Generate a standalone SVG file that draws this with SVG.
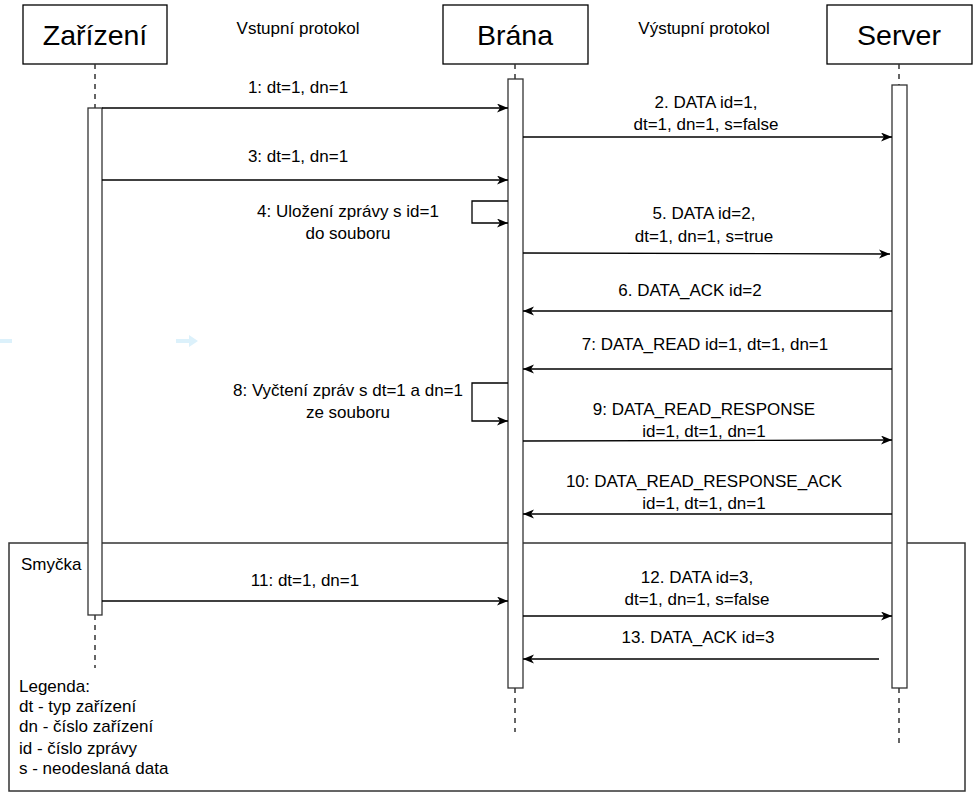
<svg xmlns="http://www.w3.org/2000/svg" width="978" height="801" viewBox="0 0 978 801">
<style>
text{font-family:"Liberation Sans",Arial,sans-serif;font-size:17px;fill:#000}
.t{text-anchor:middle}
.big{font-size:28.5px}
.hdr{fill:#fff;stroke:#000;stroke-width:1.3}
.life{stroke:#333;stroke-width:1.5;stroke-dasharray:5,5;fill:none}
.act{fill:#fff;stroke:#333;stroke-width:1.3}
.msg{stroke:#000;stroke-width:1.3;fill:none;marker-end:url(#ah)}
.frame{fill:none;stroke:#333;stroke-width:1.5}
</style>
<defs>
<marker id="ah" markerWidth="12" markerHeight="10" refX="11" refY="4.5" orient="auto" markerUnits="userSpaceOnUse">
<path d="M0,0 L11,4.5 L0,9 L3,4.5 z" fill="#000"/>
</marker>
</defs>
<rect width="978" height="801" fill="#fff"/>
<g id="loop-frame">
<rect class="frame" x="9" y="543" width="956" height="248"/>
<text x="21" y="570">Smyčka</text>
</g>
<g id="faint">
<rect x="0" y="339" width="12" height="4" fill="#dcf1fb"/>
<path d="M176,339 L189,339 L189,335 L198,341 L189,347 L189,343 L176,343 z" fill="#dcf1fb"/>
</g>
<g id="zarizeni">
<rect class="hdr" x="23" y="5" width="144" height="59"/>
<text class="t big" x="95" y="45">Zařízení</text>
<line class="life" x1="95" y1="64" x2="95" y2="108"/>
<line class="life" x1="95" y1="615" x2="95" y2="668"/>
<rect class="act" x="88" y="108" width="14" height="507"/>
</g>
<g id="brana">
<rect class="hdr" x="443" y="5" width="145" height="59"/>
<text class="t big" x="515" y="45">Brána</text>
<line class="life" x1="515" y1="64" x2="515" y2="79"/>
<line class="life" x1="515" y1="688" x2="515" y2="732"/>
<rect class="act" x="508" y="79" width="15" height="609"/>
</g>
<g id="server">
<rect class="hdr" x="827" y="5" width="145" height="59"/>
<text class="t big" x="899" y="45">Server</text>
<line class="life" x1="899" y1="64" x2="899" y2="85"/>
<line class="life" x1="899" y1="688" x2="899" y2="746"/>
<rect class="act" x="892" y="85" width="15" height="603"/>
</g>
<g id="protocol-labels">
<text class="t" x="298" y="34">Vstupní protokol</text>
<text class="t" x="704" y="34">Výstupní protokol</text>
</g>
<g id="connectors">
<line class="msg" x1="102" y1="108" x2="508" y2="108"/>
<text class="t" x="298" y="93">1: dt=1, dn=1</text>
<line class="msg" x1="523" y1="137" x2="892" y2="137"/>
<text class="t" x="706" y="108">2. DATA id=1,</text>
<text class="t" x="706" y="130">dt=1, dn=1, s=false</text>
<line class="msg" x1="102" y1="180" x2="508" y2="180"/>
<text class="t" x="298" y="162">3: dt=1, dn=1</text>
<path class="msg" d="M508,201 L472,201 L472,223 L508,223"/>
<text class="t" x="348" y="217">4: Uložení zprávy s id=1</text>
<text class="t" x="348" y="239">do souboru</text>
<line class="msg" x1="523" y1="253" x2="890" y2="254"/>
<text class="t" x="704" y="219">5. DATA id=2,</text>
<text class="t" x="704" y="242">dt=1, dn=1, s=true</text>
<line class="msg" x1="892" y1="311" x2="523" y2="311"/>
<text class="t" x="690" y="296">6. DATA_ACK id=2</text>
<line class="msg" x1="892" y1="369" x2="523" y2="369"/>
<text class="t" x="705" y="350">7: DATA_READ id=1, dt=1, dn=1</text>
<path class="msg" d="M508,383 L472,383 L472,421 L508,421"/>
<text class="t" x="348" y="396">8: Vyčtení zpráv s dt=1 a dn=1</text>
<text class="t" x="348" y="418">ze souboru</text>
<line class="msg" x1="523" y1="441" x2="892" y2="440"/>
<text class="t" x="704" y="415">9: DATA_READ_RESPONSE</text>
<text class="t" x="704" y="437">id=1, dt=1, dn=1</text>
<line class="msg" x1="892" y1="514" x2="523" y2="514"/>
<text class="t" x="704" y="487">10: DATA_READ_RESPONSE_ACK</text>
<text class="t" x="704" y="509">id=1, dt=1, dn=1</text>
<line class="msg" x1="102" y1="601" x2="508" y2="601"/>
<text class="t" x="305" y="586">11: dt=1, dn=1</text>
<line class="msg" x1="523" y1="616" x2="892" y2="616"/>
<text class="t" x="697" y="583">12. DATA id=3,</text>
<text class="t" x="697" y="605">dt=1, dn=1, s=false</text>
<line class="msg" x1="879" y1="659" x2="523" y2="659"/>
<text class="t" x="698" y="643">13. DATA_ACK id=3</text>
</g>
<g id="legend">
<text x="19" y="692">Legenda:</text>
<text x="19" y="712">dt - typ zařízení</text>
<text x="19" y="732">dn - číslo zařízení</text>
<text x="19" y="754">id - číslo zprávy</text>
<text x="19" y="774">s - neodeslaná data</text>
</g>
</svg>
